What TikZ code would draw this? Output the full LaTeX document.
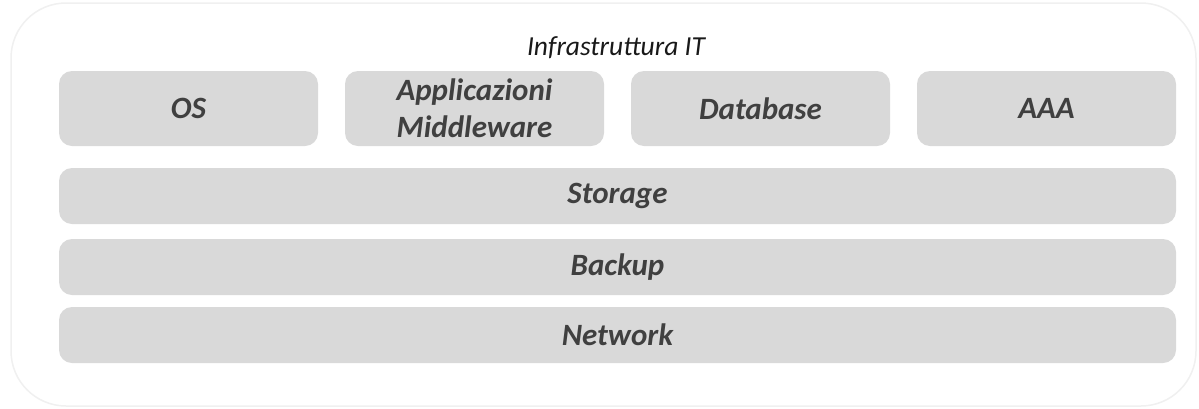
\documentclass[tikz,border=0pt]{standalone}
\usepackage{fontspec}
\setmainfont{Carlito}
\definecolor{boxgray}{HTML}{D9D9D9}
\definecolor{txtgray}{HTML}{404040}
\definecolor{framegray}{HTML}{F0F0F0}
\begin{document}
\begin{tikzpicture}[x=1pt,y=-1pt,
  layerbox/.style={fill=boxgray, draw=none, rounded corners=13pt, inner sep=0pt,
    text=txtgray, font=\fontsize{31}{37}\selectfont\bfseries\itshape, align=center},
  smallbox/.style={layerbox, minimum width=259pt, minimum height=75pt},
  widebox/.style={layerbox, minimum width=1117pt, minimum height=56pt},
  titletext/.style={text=black!90, font=\fontsize{27.5}{32}\selectfont\itshape, inner sep=0pt}]
\useasboundingbox (0,0) rectangle (1199,408);
\draw[framegray, line width=1.5pt, fill=white, rounded corners=55pt] (11,3) rectangle (1196,406);
\node[titletext] (title) at (616,48) {Infrastruttura IT};
\node[smallbox] (os) at (188.5,108.5) {OS};
\node[smallbox] (app) at (474.5,108.5) {Applicazioni\\Middleware};
\node[smallbox] (db) at (760.5,108.5) {Database};
\node[smallbox] (aaa) at (1046.5,108.5) {AAA};
\node[widebox] (storage) at (617.5,196) {Storage};
\node[widebox] (backup) at (617.5,267) {Backup};
\node[widebox] (network) at (617.5,335) {Network};
\end{tikzpicture}
\end{document}
